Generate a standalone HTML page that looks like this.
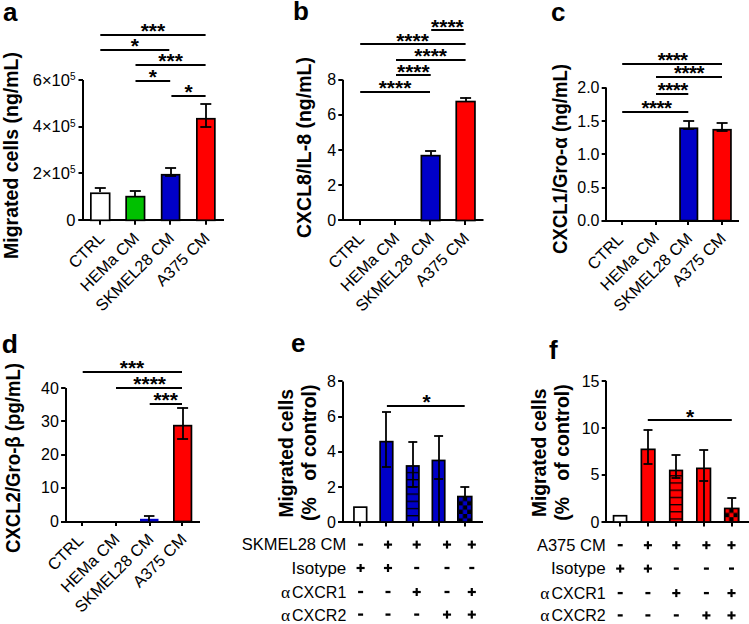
<!DOCTYPE html><html><head><meta charset="utf-8"><style>html,body{margin:0;padding:0;background:#fff;}svg{display:block;}</style></head><body>
<svg width="749" height="624" viewBox="0 0 749 624" font-family='"Liberation Sans", sans-serif' fill="#000">
<defs>
<pattern id="hb" patternUnits="userSpaceOnUse" width="20" height="7.2" x="0" y="471.85"><rect width="20" height="7.2" fill="#0000C8"/><rect y="0" width="20" height="1.3" fill="#000"/></pattern>
<pattern id="hr" patternUnits="userSpaceOnUse" width="20" height="7.2" x="0" y="475.15"><rect width="20" height="7.2" fill="#FF0000"/><rect y="0" width="20" height="1.3" fill="#000"/></pattern>
<pattern id="cb" patternUnits="userSpaceOnUse" width="8.6" height="8.6" x="458.6" y="496.8"><rect width="8.6" height="8.6" fill="#000"/><rect width="4.3" height="4.3" fill="#0000C8"/><rect x="4.3" y="4.3" width="4.3" height="4.3" fill="#0000C8"/></pattern>
<pattern id="cr" patternUnits="userSpaceOnUse" width="8.6" height="8.6" x="724.9" y="508.6"><rect width="8.6" height="8.6" fill="#000"/><rect width="4.3" height="4.3" fill="#FF0000"/><rect x="4.3" y="4.3" width="4.3" height="4.3" fill="#FF0000"/></pattern>
</defs>
<rect width="749" height="624" fill="#fff"/>
<text x="3" y="20.5" font-size="26" font-weight="bold" text-anchor="start">a</text>
<text x="18" y="155.5" font-size="19.5" font-weight="bold" text-anchor="middle" transform="rotate(-90 18 155.5)">Migrated cells (ng/mL)</text>
<line x1="83" y1="80" x2="83" y2="220.3" stroke="#000" stroke-width="2"/>
<line x1="78.5" y1="220" x2="224" y2="220" stroke="#000" stroke-width="2"/>
<line x1="78.5" y1="80" x2="83" y2="80" stroke="#000" stroke-width="2"/>
<line x1="78.5" y1="127" x2="83" y2="127" stroke="#000" stroke-width="2"/>
<line x1="78.5" y1="173" x2="83" y2="173" stroke="#000" stroke-width="2"/>
<line x1="100" y1="220.3" x2="100" y2="224.8" stroke="#000" stroke-width="2"/>
<line x1="135" y1="220.3" x2="135" y2="224.8" stroke="#000" stroke-width="2"/>
<line x1="170" y1="220.3" x2="170" y2="224.8" stroke="#000" stroke-width="2"/>
<line x1="206" y1="220.3" x2="206" y2="224.8" stroke="#000" stroke-width="2"/>
<line x1="78.5" y1="220" x2="83" y2="220" stroke="#000" stroke-width="2"/>
<text x="75.5" y="85.5" font-size="16.5" text-anchor="end">6×10<tspan font-size="10" dy="-5.5">5</tspan></text>
<text x="75.5" y="132.2" font-size="16.5" text-anchor="end">4×10<tspan font-size="10" dy="-5.5">5</tspan></text>
<text x="75.5" y="178.9" font-size="16.5" text-anchor="end">2×10<tspan font-size="10" dy="-5.5">5</tspan></text>
<text x="75.5" y="225.8" font-size="16.5" font-weight="normal" text-anchor="end">0</text>
<rect x="90.85" y="193.25" width="18.80" height="27.05" fill="#fff" stroke="#000" stroke-width="1.7"/>
<rect x="126.15" y="196.65" width="18.40" height="23.65" fill="#00C000" stroke="#000" stroke-width="1.7"/>
<rect x="161.65" y="174.75" width="17.90" height="45.55" fill="#0000C8" stroke="#000" stroke-width="1.7"/>
<rect x="196.85" y="118.75" width="18.00" height="101.55" fill="#FF0000" stroke="#000" stroke-width="1.7"/>
<line x1="100" y1="188" x2="100" y2="192" stroke="#000" stroke-width="1.8"/>
<line x1="94.8" y1="188" x2="105.8" y2="188" stroke="#000" stroke-width="1.8"/>
<line x1="135" y1="191.4" x2="135" y2="196" stroke="#000" stroke-width="1.8"/>
<line x1="129.8" y1="191" x2="140.8" y2="191" stroke="#000" stroke-width="1.8"/>
<line x1="171" y1="167.9" x2="171" y2="175.8" stroke="#000" stroke-width="1.8"/>
<line x1="165.1" y1="168" x2="176.1" y2="168" stroke="#000" stroke-width="1.8"/>
<line x1="165.1" y1="176" x2="176.1" y2="176" stroke="#000" stroke-width="1.8"/>
<line x1="206" y1="104.1" x2="206" y2="127.3" stroke="#000" stroke-width="1.8"/>
<line x1="200.3" y1="104" x2="211.3" y2="104" stroke="#000" stroke-width="1.8"/>
<line x1="200.3" y1="127" x2="211.3" y2="127" stroke="#000" stroke-width="1.8"/>
<line x1="100.3" y1="35" x2="205.6" y2="35" stroke="#000" stroke-width="2.2"/>
<text x="152.95" y="37.900000000000006" font-size="21" font-weight="bold" text-anchor="middle">***</text>
<line x1="100.3" y1="50" x2="169.3" y2="50" stroke="#000" stroke-width="2.2"/>
<text x="134.9" y="52.900000000000006" font-size="21" font-weight="bold" text-anchor="middle">*</text>
<line x1="135.5" y1="65" x2="205.6" y2="65" stroke="#000" stroke-width="2.2"/>
<text x="170.55" y="67.9" font-size="21" font-weight="bold" text-anchor="middle">***</text>
<line x1="135.5" y1="81" x2="170.2" y2="81" stroke="#000" stroke-width="2.2"/>
<text x="152.85" y="84.0" font-size="21" font-weight="bold" text-anchor="middle">*</text>
<line x1="171.4" y1="96" x2="205.6" y2="96" stroke="#000" stroke-width="2.2"/>
<text x="188.5" y="99.3" font-size="21" font-weight="bold" text-anchor="middle">*</text>
<text x="105.3" y="239.3" font-size="16.3" font-weight="normal" text-anchor="end" transform="rotate(-45 105.3 239.3)">CTRL</text>
<text x="140.1" y="239.3" font-size="16.3" font-weight="normal" text-anchor="end" transform="rotate(-45 140.1 239.3)">HEMa CM</text>
<text x="175.2" y="239.3" font-size="16.3" font-weight="normal" text-anchor="end" transform="rotate(-45 175.2 239.3)">SKMEL28 CM</text>
<text x="210.6" y="239.3" font-size="16.3" font-weight="normal" text-anchor="end" transform="rotate(-45 210.6 239.3)">A375 CM</text>
<text x="293" y="20" font-size="26" font-weight="bold" text-anchor="start">b</text>
<text x="311" y="147.5" font-size="19.5" font-weight="bold" text-anchor="middle" transform="rotate(-90 311 147.5)">CXCL8/IL-8 (ng/mL)</text>
<line x1="343" y1="79.8" x2="343" y2="220.5" stroke="#000" stroke-width="2"/>
<line x1="338.3" y1="220" x2="483.5" y2="220" stroke="#000" stroke-width="2"/>
<line x1="338.3" y1="220" x2="342.8" y2="220" stroke="#000" stroke-width="2"/>
<text x="336.1" y="225.6" font-size="16" font-weight="normal" text-anchor="end">0</text>
<line x1="338.3" y1="185" x2="342.8" y2="185" stroke="#000" stroke-width="2"/>
<text x="336.1" y="190.5" font-size="16" font-weight="normal" text-anchor="end">2</text>
<line x1="338.3" y1="150" x2="342.8" y2="150" stroke="#000" stroke-width="2"/>
<text x="336.1" y="155.5" font-size="16" font-weight="normal" text-anchor="end">4</text>
<line x1="338.3" y1="115" x2="342.8" y2="115" stroke="#000" stroke-width="2"/>
<text x="336.1" y="120.4" font-size="16" font-weight="normal" text-anchor="end">6</text>
<line x1="338.3" y1="80" x2="342.8" y2="80" stroke="#000" stroke-width="2"/>
<text x="336.1" y="85.3" font-size="16" font-weight="normal" text-anchor="end">8</text>
<line x1="360" y1="220.5" x2="360" y2="225.0" stroke="#000" stroke-width="2"/>
<line x1="395" y1="220.5" x2="395" y2="225.0" stroke="#000" stroke-width="2"/>
<line x1="430" y1="220.5" x2="430" y2="225.0" stroke="#000" stroke-width="2"/>
<line x1="465" y1="220.5" x2="465" y2="225.0" stroke="#000" stroke-width="2"/>
<rect x="421.35" y="155.65" width="18.50" height="64.85" fill="#0000C8" stroke="#000" stroke-width="1.7"/>
<rect x="456.25" y="101.55" width="18.70" height="118.95" fill="#FF0000" stroke="#000" stroke-width="1.7"/>
<line x1="431" y1="151.4" x2="431" y2="155" stroke="#000" stroke-width="1.8"/>
<line x1="425.1" y1="151" x2="436.1" y2="151" stroke="#000" stroke-width="1.8"/>
<line x1="466" y1="97.5" x2="466" y2="101" stroke="#000" stroke-width="1.8"/>
<line x1="460.1" y1="98" x2="471.1" y2="98" stroke="#000" stroke-width="1.8"/>
<line x1="431.2" y1="30" x2="463.7" y2="30" stroke="#000" stroke-width="2.2"/>
<text x="447.45" y="33.5" font-size="21" font-weight="bold" text-anchor="middle">****</text>
<line x1="360.2" y1="44" x2="465.6" y2="44" stroke="#000" stroke-width="2.2"/>
<text x="412.5" y="47.7" font-size="21" font-weight="bold" text-anchor="middle">****</text>
<line x1="396" y1="60" x2="465.6" y2="60" stroke="#000" stroke-width="2.2"/>
<text x="430.7" y="63.0" font-size="21" font-weight="bold" text-anchor="middle">****</text>
<line x1="396" y1="75" x2="430.7" y2="75" stroke="#000" stroke-width="2.2"/>
<text x="413.35" y="78.5" font-size="21" font-weight="bold" text-anchor="middle">****</text>
<line x1="360.2" y1="92" x2="430" y2="92" stroke="#000" stroke-width="2.2"/>
<text x="395" y="94.8" font-size="21" font-weight="bold" text-anchor="middle">****</text>
<text x="365.2" y="239.5" font-size="16.3" font-weight="normal" text-anchor="end" transform="rotate(-45 365.2 239.5)">CTRL</text>
<text x="400.3" y="239.5" font-size="16.3" font-weight="normal" text-anchor="end" transform="rotate(-45 400.3 239.5)">HEMa CM</text>
<text x="435.1" y="239.5" font-size="16.3" font-weight="normal" text-anchor="end" transform="rotate(-45 435.1 239.5)">SKMEL28 CM</text>
<text x="470" y="239.5" font-size="16.3" font-weight="normal" text-anchor="end" transform="rotate(-45 470 239.5)">A375 CM</text>
<text x="551" y="20.5" font-size="26" font-weight="bold" text-anchor="start">c</text>
<text x="567" y="159" font-size="19.5" font-weight="bold" text-anchor="middle" transform="rotate(-90 567 159)" textLength="190" lengthAdjust="spacingAndGlyphs">CXCL1/Gro-α (ng/mL)</text>
<line x1="606" y1="87.5" x2="606" y2="220.6" stroke="#000" stroke-width="2"/>
<line x1="601.7" y1="221" x2="739" y2="221" stroke="#000" stroke-width="2"/>
<line x1="601.7" y1="221" x2="606.2" y2="221" stroke="#000" stroke-width="2"/>
<text x="599.5" y="226.1" font-size="16" font-weight="normal" text-anchor="end">0.0</text>
<line x1="601.7" y1="188" x2="606.2" y2="188" stroke="#000" stroke-width="2"/>
<text x="599.5" y="193.2" font-size="16" font-weight="normal" text-anchor="end">0.5</text>
<line x1="601.7" y1="154" x2="606.2" y2="154" stroke="#000" stroke-width="2"/>
<text x="599.5" y="159.7" font-size="16" font-weight="normal" text-anchor="end">1.0</text>
<line x1="601.7" y1="121" x2="606.2" y2="121" stroke="#000" stroke-width="2"/>
<text x="599.5" y="126.8" font-size="16" font-weight="normal" text-anchor="end">1.5</text>
<line x1="601.7" y1="88" x2="606.2" y2="88" stroke="#000" stroke-width="2"/>
<text x="599.5" y="93.3" font-size="16" font-weight="normal" text-anchor="end">2.0</text>
<line x1="622" y1="220.6" x2="622" y2="225.1" stroke="#000" stroke-width="2"/>
<line x1="656" y1="220.6" x2="656" y2="225.1" stroke="#000" stroke-width="2"/>
<line x1="688" y1="220.6" x2="688" y2="225.1" stroke="#000" stroke-width="2"/>
<line x1="722" y1="220.6" x2="722" y2="225.1" stroke="#000" stroke-width="2"/>
<rect x="680.05" y="128.25" width="17.40" height="92.35" fill="#0000C8" stroke="#000" stroke-width="1.7"/>
<rect x="713.25" y="129.75" width="17.70" height="90.85" fill="#FF0000" stroke="#000" stroke-width="1.7"/>
<line x1="689" y1="121.3" x2="689" y2="129.3" stroke="#000" stroke-width="1.8"/>
<line x1="683.2" y1="121" x2="694.2" y2="121" stroke="#000" stroke-width="1.8"/>
<line x1="683.2" y1="129" x2="694.2" y2="129" stroke="#000" stroke-width="1.8"/>
<line x1="722" y1="123.1" x2="722" y2="131.3" stroke="#000" stroke-width="1.8"/>
<line x1="716.6" y1="123" x2="727.6" y2="123" stroke="#000" stroke-width="1.8"/>
<line x1="716.6" y1="131" x2="727.6" y2="131" stroke="#000" stroke-width="1.8"/>
<line x1="622.2" y1="64" x2="722" y2="64" stroke="#000" stroke-width="2.2"/>
<text x="672.65" y="67.0" font-size="20.5" font-weight="bold" text-anchor="middle" letter-spacing="-0.5">****</text>
<line x1="656" y1="77" x2="722" y2="77" stroke="#000" stroke-width="2.2"/>
<text x="689.05" y="80.4" font-size="20.5" font-weight="bold" text-anchor="middle" letter-spacing="-0.5">****</text>
<line x1="656" y1="94" x2="688.3" y2="94" stroke="#000" stroke-width="2.2"/>
<text x="672.75" y="97.4" font-size="20.5" font-weight="bold" text-anchor="middle" letter-spacing="-0.5">****</text>
<line x1="622.2" y1="112" x2="688.3" y2="112" stroke="#000" stroke-width="2.2"/>
<text x="656.45" y="114.8" font-size="20.5" font-weight="bold" text-anchor="middle" letter-spacing="-0.5">****</text>
<text x="624.2" y="240.6" font-size="16.3" font-weight="normal" text-anchor="end" transform="rotate(-45 624.2 240.6)">CTRL</text>
<text x="660.2" y="238.6" font-size="16.3" font-weight="normal" text-anchor="end" transform="rotate(-45 660.2 238.6)">HEMa CM</text>
<text x="693.3" y="239.6" font-size="16.3" font-weight="normal" text-anchor="end" transform="rotate(-45 693.3 239.6)">SKMEL28 CM</text>
<text x="726.8" y="239.6" font-size="16.3" font-weight="normal" text-anchor="end" transform="rotate(-45 726.8 239.6)">A375 CM</text>
<text x="1.8" y="353" font-size="26.5" font-weight="bold" text-anchor="start">d</text>
<text x="20" y="458" font-size="19.5" font-weight="bold" text-anchor="middle" transform="rotate(-90 20 458)" textLength="190" lengthAdjust="spacingAndGlyphs">CXCL2/Gro-β (pg/mL)</text>
<line x1="66" y1="388" x2="66" y2="521.5" stroke="#000" stroke-width="2"/>
<line x1="61.099999999999994" y1="522" x2="200" y2="522" stroke="#000" stroke-width="2"/>
<line x1="61.099999999999994" y1="522" x2="65.6" y2="522" stroke="#000" stroke-width="2"/>
<text x="58.89999999999999" y="527.0" font-size="16" font-weight="normal" text-anchor="end">0</text>
<line x1="61.099999999999994" y1="488" x2="65.6" y2="488" stroke="#000" stroke-width="2"/>
<text x="58.89999999999999" y="493.3" font-size="16" font-weight="normal" text-anchor="end">10</text>
<line x1="61.099999999999994" y1="455" x2="65.6" y2="455" stroke="#000" stroke-width="2"/>
<text x="58.89999999999999" y="460.1" font-size="16" font-weight="normal" text-anchor="end">20</text>
<line x1="61.099999999999994" y1="421" x2="65.6" y2="421" stroke="#000" stroke-width="2"/>
<text x="58.89999999999999" y="426.8" font-size="16" font-weight="normal" text-anchor="end">30</text>
<line x1="61.099999999999994" y1="388" x2="65.6" y2="388" stroke="#000" stroke-width="2"/>
<text x="58.89999999999999" y="393.5" font-size="16" font-weight="normal" text-anchor="end">40</text>
<line x1="82" y1="521.5" x2="82" y2="526.0" stroke="#000" stroke-width="2"/>
<line x1="116" y1="521.5" x2="116" y2="526.0" stroke="#000" stroke-width="2"/>
<line x1="150" y1="521.5" x2="150" y2="526.0" stroke="#000" stroke-width="2"/>
<line x1="182" y1="521.5" x2="182" y2="526.0" stroke="#000" stroke-width="2"/>
<rect x="140" y="518.8" width="18.5" height="2.5" fill="#0000C8"/>
<rect x="173.85" y="425.65" width="17.60" height="95.85" fill="#FF0000" stroke="#000" stroke-width="1.7"/>
<line x1="149" y1="516" x2="149" y2="521" stroke="#000" stroke-width="1.8"/>
<line x1="143.95" y1="516" x2="154.45" y2="516" stroke="#000" stroke-width="1.8"/>
<line x1="183" y1="407.5" x2="183" y2="439.2" stroke="#000" stroke-width="1.8"/>
<line x1="177.1" y1="408" x2="188.1" y2="408" stroke="#000" stroke-width="1.8"/>
<line x1="177.1" y1="439" x2="188.1" y2="439" stroke="#000" stroke-width="1.8"/>
<line x1="82.7" y1="372" x2="182" y2="372" stroke="#000" stroke-width="2.2"/>
<text x="132" y="375.09999999999997" font-size="21" font-weight="bold" text-anchor="middle">***</text>
<line x1="116" y1="388" x2="182" y2="388" stroke="#000" stroke-width="2.2"/>
<text x="149.7" y="391.2" font-size="21" font-weight="bold" text-anchor="middle">****</text>
<line x1="149.7" y1="404" x2="182" y2="404" stroke="#000" stroke-width="2.2"/>
<text x="165.7" y="407.2" font-size="21" font-weight="bold" text-anchor="middle">***</text>
<text x="84.3" y="541.5" font-size="16.3" font-weight="normal" text-anchor="end" transform="rotate(-45 84.3 541.5)">CTRL</text>
<text x="120.6" y="540.5" font-size="16.3" font-weight="normal" text-anchor="end" transform="rotate(-45 120.6 540.5)">HEMa CM</text>
<text x="154.5" y="540.5" font-size="16.3" font-weight="normal" text-anchor="end" transform="rotate(-45 154.5 540.5)">SKMEL28 CM</text>
<text x="187.5" y="540.5" font-size="16.3" font-weight="normal" text-anchor="end" transform="rotate(-45 187.5 540.5)">A375 CM</text>
<text x="291" y="352" font-size="26" font-weight="bold" text-anchor="start">e</text>
<g font-size="19.5" font-weight="bold">
<text x="293" y="453.3" font-size="19.3" font-weight="bold" text-anchor="middle" transform="rotate(-90 293 453.3)">Migrated cells</text>
<text x="316" y="452.7" font-size="19.5" font-weight="bold" text-anchor="middle" transform="rotate(-90 316 452.7)">(%&#160;&#160; of control)</text>
</g>
<line x1="343" y1="381.4" x2="343" y2="522" stroke="#000" stroke-width="2"/>
<line x1="338.1" y1="522" x2="483" y2="522" stroke="#000" stroke-width="2"/>
<line x1="338.1" y1="522" x2="342.6" y2="522" stroke="#000" stroke-width="2"/>
<text x="335.90000000000003" y="527.5" font-size="16" font-weight="normal" text-anchor="end">0</text>
<line x1="338.1" y1="487" x2="342.6" y2="487" stroke="#000" stroke-width="2"/>
<text x="335.90000000000003" y="492.7" font-size="16" font-weight="normal" text-anchor="end">2</text>
<line x1="338.1" y1="452" x2="342.6" y2="452" stroke="#000" stroke-width="2"/>
<text x="335.90000000000003" y="457.4" font-size="16" font-weight="normal" text-anchor="end">4</text>
<line x1="338.1" y1="417" x2="342.6" y2="417" stroke="#000" stroke-width="2"/>
<text x="335.90000000000003" y="422.2" font-size="16" font-weight="normal" text-anchor="end">6</text>
<line x1="338.1" y1="381" x2="342.6" y2="381" stroke="#000" stroke-width="2"/>
<text x="335.90000000000003" y="386.9" font-size="16" font-weight="normal" text-anchor="end">8</text>
<line x1="360" y1="522" x2="360" y2="526.5" stroke="#000" stroke-width="2"/>
<line x1="386" y1="522" x2="386" y2="526.5" stroke="#000" stroke-width="2"/>
<line x1="413" y1="522" x2="413" y2="526.5" stroke="#000" stroke-width="2"/>
<line x1="439" y1="522" x2="439" y2="526.5" stroke="#000" stroke-width="2"/>
<line x1="465" y1="522" x2="465" y2="526.5" stroke="#000" stroke-width="2"/>
<rect x="353.95" y="507.15" width="12.70" height="14.85" fill="#fff" stroke="#000" stroke-width="1.7"/>
<rect x="380.15" y="441.65" width="12.60" height="80.35" fill="#0000C8" stroke="#000" stroke-width="1.7"/>
<rect x="406.55" y="465.95" width="12.40" height="56.05" fill="url(#hb)" stroke="#000" stroke-width="1.7"/>
<rect x="432.35" y="460.45" width="12.40" height="61.55" fill="#0000C8" stroke="#000" stroke-width="1.7"/>
<rect x="457.85" y="496.55" width="13.90" height="25.45" fill="url(#cb)" stroke="#000" stroke-width="1.7"/>
<line x1="386" y1="412" x2="386" y2="467.2" stroke="#000" stroke-width="1.8"/>
<line x1="382.0" y1="412" x2="391.0" y2="412" stroke="#000" stroke-width="1.8"/>
<line x1="382.0" y1="467" x2="391.0" y2="467" stroke="#000" stroke-width="1.8"/>
<line x1="413" y1="441.6" x2="413" y2="486.9" stroke="#000" stroke-width="1.8"/>
<line x1="408.3" y1="442" x2="417.3" y2="442" stroke="#000" stroke-width="1.8"/>
<line x1="408.3" y1="487" x2="417.3" y2="487" stroke="#000" stroke-width="1.8"/>
<line x1="439" y1="435.8" x2="439" y2="478.9" stroke="#000" stroke-width="1.8"/>
<line x1="434.1" y1="436" x2="443.1" y2="436" stroke="#000" stroke-width="1.8"/>
<line x1="434.1" y1="479" x2="443.1" y2="479" stroke="#000" stroke-width="1.8"/>
<line x1="439" y1="478.9" x2="439" y2="522" stroke="#000" stroke-width="1.8"/>
<line x1="465" y1="486.9" x2="465" y2="496" stroke="#000" stroke-width="1.8"/>
<line x1="460.3" y1="487" x2="469.3" y2="487" stroke="#000" stroke-width="1.8"/>
<line x1="386.9" y1="406" x2="464.7" y2="406" stroke="#000" stroke-width="2.2"/>
<text x="426.5" y="409.3" font-size="21" font-weight="bold" text-anchor="middle">*</text>
<text x="549" y="358.5" font-size="26" font-weight="bold" text-anchor="start">f</text>
<text x="546" y="452.8" font-size="19.3" font-weight="bold" text-anchor="middle" transform="rotate(-90 546 452.8)">Migrated cells</text>
<text x="568.5" y="452.5" font-size="19.5" font-weight="bold" text-anchor="middle" transform="rotate(-90 568.5 452.5)">(%&#160;&#160; of control)</text>
<line x1="606" y1="381.1" x2="606" y2="522" stroke="#000" stroke-width="2"/>
<line x1="601.7" y1="522" x2="749" y2="522" stroke="#000" stroke-width="2"/>
<line x1="601.7" y1="522" x2="606.2" y2="522" stroke="#000" stroke-width="2"/>
<text x="599.5" y="527.7" font-size="16" font-weight="normal" text-anchor="end">0</text>
<line x1="601.7" y1="475" x2="606.2" y2="475" stroke="#000" stroke-width="2"/>
<text x="599.5" y="480.3" font-size="16" font-weight="normal" text-anchor="end">5</text>
<line x1="601.7" y1="428" x2="606.2" y2="428" stroke="#000" stroke-width="2"/>
<text x="599.5" y="433.6" font-size="16" font-weight="normal" text-anchor="end">10</text>
<line x1="601.7" y1="381" x2="606.2" y2="381" stroke="#000" stroke-width="2"/>
<text x="599.5" y="386.6" font-size="16" font-weight="normal" text-anchor="end">15</text>
<line x1="620" y1="522" x2="620" y2="526.5" stroke="#000" stroke-width="2"/>
<line x1="648" y1="522" x2="648" y2="526.5" stroke="#000" stroke-width="2"/>
<line x1="676" y1="522" x2="676" y2="526.5" stroke="#000" stroke-width="2"/>
<line x1="704" y1="522" x2="704" y2="526.5" stroke="#000" stroke-width="2"/>
<line x1="732" y1="522" x2="732" y2="526.5" stroke="#000" stroke-width="2"/>
<rect x="613.55" y="515.75" width="13.00" height="6.25" fill="#fff" stroke="#000" stroke-width="1.7"/>
<rect x="641.35" y="449.35" width="13.50" height="72.65" fill="#FF0000" stroke="#000" stroke-width="1.7"/>
<rect x="669.75" y="470.45" width="12.60" height="51.55" fill="url(#hr)" stroke="#000" stroke-width="1.7"/>
<rect x="696.85" y="468.35" width="13.60" height="53.65" fill="#FF0000" stroke="#000" stroke-width="1.7"/>
<rect x="724.75" y="508.45" width="14.00" height="13.55" fill="url(#cr)" stroke="#000" stroke-width="1.7"/>
<line x1="648" y1="429.5" x2="648" y2="463.7" stroke="#000" stroke-width="1.8"/>
<line x1="643.5" y1="430" x2="652.5" y2="430" stroke="#000" stroke-width="1.8"/>
<line x1="643.5" y1="464" x2="652.5" y2="464" stroke="#000" stroke-width="1.8"/>
<line x1="676" y1="455" x2="676" y2="478.4" stroke="#000" stroke-width="1.8"/>
<line x1="671.5" y1="455" x2="680.5" y2="455" stroke="#000" stroke-width="1.8"/>
<line x1="671.5" y1="478" x2="680.5" y2="478" stroke="#000" stroke-width="1.8"/>
<line x1="704" y1="450" x2="704" y2="481.3" stroke="#000" stroke-width="1.8"/>
<line x1="699.2" y1="450" x2="708.2" y2="450" stroke="#000" stroke-width="1.8"/>
<line x1="699.2" y1="481" x2="708.2" y2="481" stroke="#000" stroke-width="1.8"/>
<line x1="704" y1="481.3" x2="704" y2="522" stroke="#000" stroke-width="1.8"/>
<line x1="732" y1="498.2" x2="732" y2="508" stroke="#000" stroke-width="1.8"/>
<line x1="727.3" y1="498" x2="736.3" y2="498" stroke="#000" stroke-width="1.8"/>
<line x1="647.8" y1="420" x2="731.8" y2="420" stroke="#000" stroke-width="2.2"/>
<text x="690.2" y="423.7" font-size="21" font-weight="bold" text-anchor="middle">*</text>
<text x="346.3" y="550.1" font-size="16.5" font-weight="normal" text-anchor="end">SKMEL28 CM</text>
<rect x="358.10" y="543.45" width="5" height="2.3"/>
<rect x="383.95" y="543.50" width="8.1" height="2.2"/><rect x="386.90" y="540.60" width="2.2" height="8"/>
<rect x="412.65" y="543.50" width="8.1" height="2.2"/><rect x="415.60" y="540.60" width="2.2" height="8"/>
<rect x="442.95" y="543.50" width="8.1" height="2.2"/><rect x="445.90" y="540.60" width="2.2" height="8"/>
<rect x="467.75" y="543.50" width="8.1" height="2.2"/><rect x="470.70" y="540.60" width="2.2" height="8"/>
<text x="346.3" y="573.5" font-size="17" font-weight="normal" text-anchor="end">Isotype</text>
<rect x="356.55" y="566.90" width="8.1" height="2.2"/><rect x="359.50" y="564.00" width="2.2" height="8"/>
<rect x="383.95" y="566.90" width="8.1" height="2.2"/><rect x="386.90" y="564.00" width="2.2" height="8"/>
<rect x="414.20" y="566.85" width="5" height="2.3"/>
<rect x="444.50" y="566.85" width="5" height="2.3"/>
<rect x="469.30" y="566.85" width="5" height="2.3"/>
<text x="346.3" y="598.0" font-size="16" font-weight="normal" text-anchor="end"><tspan font-family="Liberation Serif" font-size="17.5">α</tspan><tspan dx="2">CXCR1</tspan></text>
<rect x="358.10" y="590.85" width="5" height="2.3"/>
<rect x="385.50" y="590.85" width="5" height="2.3"/>
<rect x="412.65" y="590.90" width="8.1" height="2.2"/><rect x="415.60" y="588.00" width="2.2" height="8"/>
<rect x="444.50" y="590.85" width="5" height="2.3"/>
<rect x="467.75" y="590.90" width="8.1" height="2.2"/><rect x="470.70" y="588.00" width="2.2" height="8"/>
<text x="346.3" y="620.6" font-size="16" font-weight="normal" text-anchor="end"><tspan font-family="Liberation Serif" font-size="17.5">α</tspan><tspan dx="2">CXCR2</tspan></text>
<rect x="358.10" y="613.45" width="5" height="2.3"/>
<rect x="385.50" y="613.45" width="5" height="2.3"/>
<rect x="414.20" y="613.45" width="5" height="2.3"/>
<rect x="442.95" y="613.50" width="8.1" height="2.2"/><rect x="445.90" y="610.60" width="2.2" height="8"/>
<rect x="467.75" y="613.50" width="8.1" height="2.2"/><rect x="470.70" y="610.60" width="2.2" height="8"/>
<text x="605.7" y="550.7" font-size="16.5" font-weight="normal" text-anchor="end">A375 CM</text>
<rect x="617.70" y="544.05" width="5" height="2.3"/>
<rect x="643.85" y="544.10" width="8.1" height="2.2"/><rect x="646.80" y="541.20" width="2.2" height="8"/>
<rect x="672.25" y="544.10" width="8.1" height="2.2"/><rect x="675.20" y="541.20" width="2.2" height="8"/>
<rect x="702.35" y="544.10" width="8.1" height="2.2"/><rect x="705.30" y="541.20" width="2.2" height="8"/>
<rect x="727.45" y="544.10" width="8.1" height="2.2"/><rect x="730.40" y="541.20" width="2.2" height="8"/>
<text x="605.7" y="574.1" font-size="17" font-weight="normal" text-anchor="end">Isotype</text>
<rect x="616.15" y="567.50" width="8.1" height="2.2"/><rect x="619.10" y="564.60" width="2.2" height="8"/>
<rect x="643.85" y="567.50" width="8.1" height="2.2"/><rect x="646.80" y="564.60" width="2.2" height="8"/>
<rect x="673.80" y="567.45" width="5" height="2.3"/>
<rect x="703.90" y="567.45" width="5" height="2.3"/>
<rect x="729.00" y="567.45" width="5" height="2.3"/>
<text x="605.7" y="599.1" font-size="16" font-weight="normal" text-anchor="end"><tspan font-family="Liberation Serif" font-size="17.5">α</tspan><tspan dx="2">CXCR1</tspan></text>
<rect x="617.70" y="591.95" width="5" height="2.3"/>
<rect x="645.40" y="591.95" width="5" height="2.3"/>
<rect x="672.25" y="592.00" width="8.1" height="2.2"/><rect x="675.20" y="589.10" width="2.2" height="8"/>
<rect x="703.90" y="591.95" width="5" height="2.3"/>
<rect x="727.45" y="592.00" width="8.1" height="2.2"/><rect x="730.40" y="589.10" width="2.2" height="8"/>
<text x="605.7" y="621.4" font-size="16" font-weight="normal" text-anchor="end"><tspan font-family="Liberation Serif" font-size="17.5">α</tspan><tspan dx="2">CXCR2</tspan></text>
<rect x="617.70" y="614.25" width="5" height="2.3"/>
<rect x="645.40" y="614.25" width="5" height="2.3"/>
<rect x="673.80" y="614.25" width="5" height="2.3"/>
<rect x="702.35" y="614.30" width="8.1" height="2.2"/><rect x="705.30" y="611.40" width="2.2" height="8"/>
<rect x="727.45" y="614.30" width="8.1" height="2.2"/><rect x="730.40" y="611.40" width="2.2" height="8"/>
</svg></body></html>
